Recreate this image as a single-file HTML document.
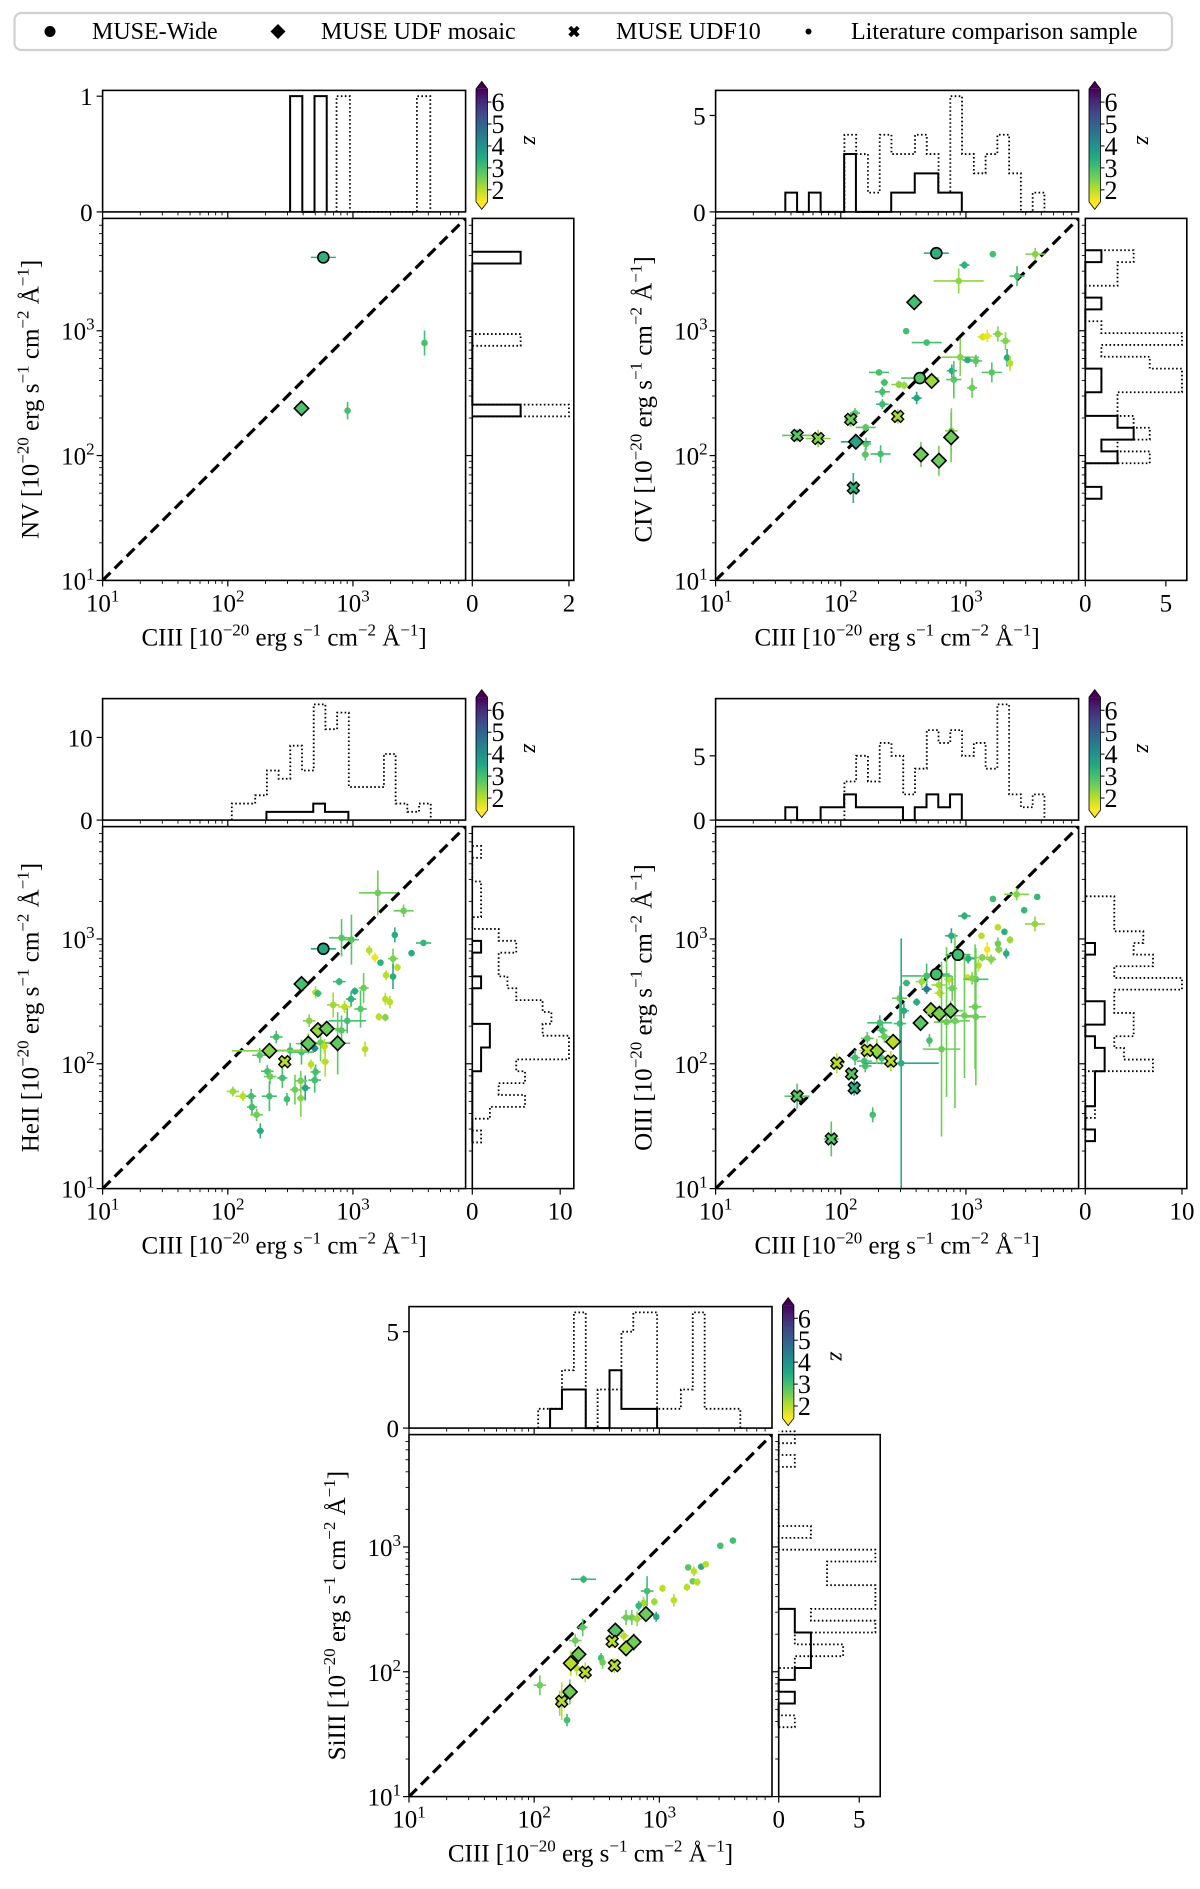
<!DOCTYPE html>
<html><head><meta charset="utf-8">
<style>
html,body{margin:0;padding:0;background:#fff;}
svg{display:block;font-family:"Liberation Serif","DejaVu Serif",serif;}
</style></head>
<body>
<svg id="fig" xmlns="http://www.w3.org/2000/svg" width="1200" height="1889" viewBox="0 0 1200 1889">
<defs>
<linearGradient id="cbgrad" x1="0" y1="0" x2="0" y2="1">
<stop offset="0" stop-color="#440154"/><stop offset="0.1" stop-color="#482475"/><stop offset="0.2" stop-color="#414487"/><stop offset="0.3" stop-color="#355f8d"/><stop offset="0.4" stop-color="#2a788e"/><stop offset="0.5" stop-color="#21918c"/><stop offset="0.6" stop-color="#22a884"/><stop offset="0.7" stop-color="#44bf70"/><stop offset="0.8" stop-color="#7ad151"/><stop offset="0.9" stop-color="#bddf26"/><stop offset="1" stop-color="#fde725"/>
</linearGradient>
</defs>
<g>
<rect x="14.5" y="13" width="1157.5" height="37" rx="7" fill="#fff" stroke="#d0d0d0" stroke-width="2.2"/>
<circle cx="50" cy="31.5" r="5.5" fill="#000"/>
<text x="92" y="39" font-size="24">MUSE-Wide</text>
<polygon points="278,24 285.5,31.5 278,39 270.5,31.5" fill="#000"/>
<text x="321" y="39" font-size="24">MUSE UDF mosaic</text>
<polygon points="-2,-6 2,-6 2,-2 6,-2 6,2 2,2 2,6 -2,6 -2,2 -6,2 -6,-2 -2,-2" transform="translate(574,31.5) rotate(45)" fill="#000"/>
<text x="616" y="39" font-size="24">MUSE UDF10</text>
<circle cx="808.5" cy="31.5" r="3" fill="#000"/>
<text x="851" y="39" font-size="24">Literature comparison sample</text>
</g>
</svg>
<script>
// ---------------- DATA ----------------
// point tuples: [CIII flux, line flux, redshift, xerr(dex), yerr(dex)]
const nvWide = [[580, 3870, 3.3, 0.1, 0.02]];
const nvMosaic = [[388, 239, 2.9, 0.02, 0.06]];
const nvUdf10 = [];
const nvLit = [[906, 229, 3.0, 0.02, 0.07], [3730, 798, 3.0, 0.02, 0.1]];

const civWide = [[580, 4180, 3.3, 0.1, 0.02], [428, 418, 2.8, 0.15, 0.03]];
const civMosaic = [[386, 1690, 3.0, 0.02, 0.03], [532, 396, 2.2, 0.02, 0.03], [132, 129, 3.6, 0.12, 0.05], [437, 102, 2.6, 0.03, 0.1], [608, 91, 2.6, 0.03, 0.12], [761, 140, 2.6, 0.03, 0.2]];
const civUdf10 = [[44.8, 145, 2.8, 0.12, 0.05], [65.9, 137, 2.4, 0.1, 0.07], [120, 195, 2.6, 0.05, 0.06], [285, 206, 2.1, 0.04, 0.06], [126, 55, 3.3, 0.03, 0.12]];
const civLit = [[1640, 4110, 3.0, 0.02, 0.02], [972, 3360, 3.3, 0.04, 0.03], [875, 2505, 2.3, 0.2, 0.1], [3580, 4110, 2.4, 0.08, 0.05], [2560, 2740, 3.0, 0.06, 0.08],
 [333, 993, 3.0, 0.02, 0.02], [486, 804, 3.0, 0.12, 0.02], [1360, 893, 1.8, 0.04, 0.03], [1480, 908, 1.6, 0.04, 0.05], [1800, 942, 2.4, 0.04, 0.06], [2070, 828, 2.4, 0.04, 0.07],
 [2130, 608, 3.4, 0.02, 0.07], [2250, 548, 2.0, 0.02, 0.06], [900, 614, 2.4, 0.15, 0.15], [1030, 583, 3.4, 0.04, 0.02], [1200, 573, 2.8, 0.05, 0.05], [1610, 464, 2.8, 0.08, 0.08],
 [771, 478, 3.4, 0.04, 0.05], [800, 406, 2.8, 0.06, 0.15], [1120, 349, 2.6, 0.04, 0.08], [202, 464, 3.0, 0.08, 0.02], [223, 385, 3.0, 0.03, 0.03], [291, 371, 2.4, 0.06, 0.03],
 [321, 365, 2.2, 0.03, 0.03], [215, 324, 3.0, 0.06, 0.04], [215, 258, 3.1, 0.05, 0.04], [404, 289, 3.6, 0.04, 0.05], [158, 168, 2.8, 0.08, 0.03], [159, 124, 2.8, 0.04, 0.05],
 [157, 102, 2.8, 0.03, 0.05], [208, 103, 3.0, 0.08, 0.07], [130, 219, 2.8, 0.04, 0.04], [765, 158, 2.4, 0.05, 0.18]];

const heiiWide = [[580, 834, 3.5, 0.1, 0.03]];
const heiiMosaic = [[388, 436, 3.0, 0.02, 0.03], [215, 127, 2.4, 0.3, 0.05], [525, 186, 2.2, 0.05, 0.06], [617, 191, 2.6, 0.1, 0.06], [440, 145, 2.7, 0.1, 0.08], [755, 146, 2.7, 0.1, 0.25]];
const heiiUdf10 = [[285, 104, 2.0, 0.04, 0.04]];
const heiiLit = [[1580, 2340, 2.6, 0.15, 0.18], [2540, 1680, 2.6, 0.08, 0.05], [3660, 929, 3.2, 0.06, 0.02], [2940, 769, 3.4, 0.02, 0.02], [2160, 1077, 3.4, 0.02, 0.06],
 [811, 1021, 2.8, 0.1, 0.15], [973, 986, 2.8, 0.06, 0.2], [1350, 810, 2.0, 0.02, 0.04], [1500, 710, 1.6, 0.03, 0.04], [1660, 646, 3.3, 0.02, 0.02], [2090, 695, 2.5, 0.04, 0.08],
 [2270, 592, 2.0, 0.02, 0.03], [1840, 512, 2.0, 0.02, 0.04], [2090, 500, 3.4, 0.02, 0.1], [777, 455, 3.2, 0.05, 0.03], [1035, 382, 3.4, 0.03, 0.03], [1217, 405, 2.6, 0.04, 0.12],
 [966, 330, 3.3, 0.04, 0.06], [1150, 275, 2.8, 0.05, 0.15], [1816, 330, 2.0, 0.02, 0.05], [1973, 312, 2.0, 0.02, 0.05], [1611, 238, 2.0, 0.02, 0.03], [1816, 235, 2.4, 0.02, 0.03],
 [1250, 131, 2.0, 0.02, 0.06], [503, 374, 2.0, 0.03, 0.05], [525, 366, 3.1, 0.03, 0.03], [695, 296, 2.2, 0.05, 0.1], [857, 286, 2.0, 0.05, 0.05], [900, 221, 3.0, 0.15, 0.1],
 [811, 185, 2.8, 0.05, 0.12], [447, 221, 2.4, 0.05, 0.05], [551, 148, 2.6, 0.1, 0.15], [592, 138, 2.0, 0.03, 0.06], [600, 104, 2.0, 0.03, 0.12], [495, 133, 4.2, 0.03, 0.03],
 [315, 128, 3.0, 0.15, 0.06], [388, 124, 3.0, 0.1, 0.1], [462, 99, 2.0, 0.02, 0.04], [244, 164, 3.0, 0.05, 0.05], [180, 117, 2.8, 0.06, 0.06], [207, 87, 3.0, 0.05, 0.05],
 [218, 79, 2.6, 0.05, 0.06], [273, 77, 3.0, 0.04, 0.08], [416, 64, 3.6, 0.04, 0.1], [383, 73, 2.6, 0.05, 0.08], [503, 86, 3.0, 0.04, 0.06], [495, 74, 3.0, 0.05, 0.1],
 [110, 60, 2.2, 0.05, 0.04], [132, 55, 2.0, 0.06, 0.04], [154, 55, 3.0, 0.04, 0.06], [215, 55, 3.0, 0.06, 0.12], [156, 45, 3.0, 0.04, 0.06], [170, 39, 2.6, 0.05, 0.05],
 [182, 29, 3.4, 0.03, 0.06], [297, 52, 3.0, 0.02, 0.05], [344, 62, 2.6, 0.04, 0.12], [383, 53, 2.4, 0.03, 0.15]];

const oiiiWide = [[580, 522, 3.0, 0.1, 0.03], [863, 747, 3.0, 0.1, 0.03]];
const oiiiMosaic = [[525, 269, 2.2, 0.05, 0.04], [612, 252, 2.5, 0.1, 0.06], [755, 266, 2.6, 0.1, 0.08], [434, 212, 2.8, 0.05, 0.05], [262, 150, 2.0, 0.05, 0.05], [194, 126, 2.3, 0.08, 0.1]];
const oiiiUdf10 = [[93, 101, 2.0, 0.05, 0.08], [163, 128, 2.0, 0.06, 0.06], [251, 105, 2.0, 0.04, 0.08], [122, 83, 2.8, 0.04, 0.04], [128, 64, 3.4, 0.04, 0.06], [44.8, 55, 2.8, 0.1, 0.1], [84, 25, 2.8, 0.06, 0.14]];
const oiiiLit = [[1644, 2090, 3.1, 0.02, 0.02], [2540, 2280, 2.4, 0.1, 0.05], [3710, 2170, 3.2, 0.02, 0.02], [2920, 1700, 3.2, 0.02, 0.02], [3560, 1320, 2.3, 0.08, 0.06],
 [973, 1530, 3.3, 0.05, 0.03], [765, 1060, 3.4, 0.05, 0.06], [1330, 1060, 2.0, 0.02, 0.02], [1800, 1240, 2.0, 0.02, 0.02], [2030, 1140, 3.4, 0.02, 0.02], [2250, 985, 2.2, 0.02, 0.03],
 [1800, 917, 2.6, 0.02, 0.05], [1480, 822, 1.6, 0.02, 0.06], [1830, 822, 2.4, 0.03, 0.03], [2100, 764, 3.4, 0.02, 0.04], [1350, 709, 2.4, 0.1, 0.03], [1042, 695, 3.4, 0.05, 0.04],
 [1260, 614, 2.0, 0.02, 0.05], [1590, 685, 2.4, 0.04, 0.04], [1030, 493, 1.8, 0.03, 0.02], [1200, 475, 3.0, 0.1, 0.05], [1120, 483, 2.4, 0.05, 0.05], [735, 475, 2.0, 0.04, 0.05],
 [485, 505, 3.0, 0.2, 0.1], [335, 443, 3.2, 0.03, 0.02], [444, 455, 2.2, 0.05, 0.05], [485, 396, 4.5, 0.04, 0.04], [608, 427, 2.2, 0.06, 0.05], [777, 402, 2.6, 0.04, 0.1],
 [617, 368, 2.0, 0.04, 0.04], [295, 335, 2.6, 0.06, 0.05], [404, 312, 3.4, 0.03, 0.03], [319, 266, 3.4, 0.04, 0.06], [973, 243, 2.6, 0.1, 0.5], [1200, 238, 2.6, 0.08, 0.55],
 [1183, 286, 2.6, 0.05, 0.5], [700, 216, 2.6, 0.1, 0.6], [817, 221, 2.6, 0.12, 0.7], [511, 154, 3.0, 0.02, 0.05], [638, 131, 2.6, 0.15, 0.7], [297, 210, 3.0, 0.05, 0.3],
 [205, 213, 3.0, 0.1, 0.06], [215, 185, 3.0, 0.04, 0.05], [223, 165, 2.6, 0.05, 0.05], [163, 160, 2.8, 0.05, 0.05], [130, 112, 3.0, 0.04, 0.06], [154, 105, 3.0, 0.06, 0.05],
 [157, 96, 3.0, 0.05, 0.05], [212, 111, 3.0, 0.05, 0.05], [304, 101, 3.4, 0.3, 1.0], [180, 39, 3.0, 0.02, 0.06]];

const siiiiWide = [];
const siiiiMosaic = [[782, 290, 2.6, 0.04, 0.04], [445, 214, 2.8, 0.04, 0.06], [624, 173, 2.6, 0.04, 0.07], [542, 154, 2.2, 0.04, 0.06], [226, 138, 2.6, 0.04, 0.07], [196, 117, 2.0, 0.05, 0.1], [193, 69, 2.6, 0.03, 0.1]];
const siiiiUdf10 = [[420, 175, 2.0, 0.03, 0.05], [438, 112, 2.0, 0.03, 0.06], [256, 99, 2.0, 0.03, 0.08], [166, 58, 2.0, 0.05, 0.15]];
const siiiiLit = [[3870, 1125, 3.0, 0.02, 0.02], [3070, 1022, 3.0, 0.02, 0.02], [1700, 685, 2.8, 0.02, 0.02], [2160, 695, 3.4, 0.02, 0.02], [2350, 726, 2.0, 0.02, 0.02],
 [1890, 637, 2.0, 0.02, 0.04], [1850, 531, 2.6, 0.02, 0.02], [2010, 523, 2.0, 0.02, 0.03], [1660, 476, 2.0, 0.02, 0.03], [1060, 466, 2.0, 0.02, 0.03], [798, 443, 3.0, 0.05, 0.12],
 [1306, 374, 2.0, 0.02, 0.05], [912, 364, 2.2, 0.02, 0.03], [748, 356, 2.2, 0.03, 0.05], [684, 338, 3.2, 0.02, 0.04], [944, 276, 3.4, 0.02, 0.04], [542, 272, 2.6, 0.04, 0.06],
 [603, 272, 2.6, 0.04, 0.06], [664, 266, 2.2, 0.04, 0.06], [519, 194, 2.0, 0.04, 0.04], [248, 551, 3.2, 0.1, 0.03], [244, 227, 2.8, 0.04, 0.07], [213, 178, 2.6, 0.05, 0.05],
 [342, 129, 3.0, 0.02, 0.04], [352, 119, 2.6, 0.02, 0.05], [218, 107, 2.0, 0.03, 0.06], [111, 78, 2.6, 0.05, 0.08], [183, 41, 3.0, 0.02, 0.05], [160, 56, 2.2, 0.03, 0.1]];

// histograms: {lo: log10 of first bin edge, w: log10 bin width, n: counts}
const nvTopSolid = {lo: 2.498, w: 0.0975, n: [1, 0, 1]};
const nvTopDotted = {lo: 2.869, w: 0.107, n: [1, 0, 0, 0, 0, 0, 1]};
const nvRightSolid = {lo: 2.314, w: 0.0942, n: [1, 0, 0, 0, 0, 0, 0, 0, 0, 0, 0, 0, 0, 1]};
const nvRightDotted = {lo: 2.314, w: 0.0942, n: [2, 0, 0, 0, 0, 0, 1]};
const civTopSolid = {lo: 1.557, w: 0.094, n: [1, 0, 1, 0, 0, 3, 0, 0, 0, 1, 1, 2, 2, 1, 1]};
const civTopDotted = {lo: 2.029, w: 0.094, n: [4, 3, 1, 4, 3, 3, 4, 3, 1, 6, 3, 2, 3, 4, 2, 0, 1]};
const civRightSolid = {lo: 1.654, w: 0.0948, n: [1, 0, 0, 2, 1, 3, 2, 0, 0, 1, 1, 0, 0, 0, 0, 0, 1, 0, 0, 0, 1]};
const civRightDotted = {lo: 1.654, w: 0.0948, n: [0, 0, 0, 4, 2, 4, 3, 2, 2, 6, 6, 4, 1, 6, 1, 0, 0, 0, 2, 2, 3]};
const heiiTopSolid = {lo: 2.309, w: 0.0935, n: [1, 1, 1, 1, 2, 1, 1]};
const heiiTopDotted = {lo: 2.032, w: 0.0935, n: [2, 2, 3, 6, 5, 9, 6, 14, 11, 13, 4, 4, 4, 8, 2, 1, 2]};
const heiiRightSolid = {lo: 1.370, w: 0.095, n: [0, 0, 0, 0, 0, 0, 1, 1, 2, 2, 0, 0, 0, 1, 0, 0, 1]};
const heiiRightDotted = {lo: 1.370, w: 0.095, n: [1, 0, 2, 6, 3, 6, 5, 11, 11, 8, 9, 8, 5, 4, 3, 3, 5, 3, 0, 1, 1, 1, 0, 0, 1]};
const oiiiTopSolid = {lo: 1.557, w: 0.094, n: [1, 0, 0, 1, 1, 2, 1, 1, 1, 1, 0, 1, 2, 1, 2]};
const oiiiTopDotted = {lo: 2.029, w: 0.094, n: [3, 5, 3, 6, 5, 2, 4, 7, 6, 7, 5, 6, 4, 9, 2, 1, 2]};
const oiiiRightSolid = {lo: 1.380, w: 0.0934, n: [1, 0, 0, 1, 1, 1, 2, 2, 1, 0, 2, 2, 0, 0, 0, 0, 1]};
const oiiiRightDotted = {lo: 1.380, w: 0.0934, n: [0, 0, 1, 0, 0, 0, 7, 4, 3, 5, 5, 3, 3, 10, 3, 7, 5, 6, 3, 3, 3]};
const siiiiTopSolid = {lo: 2.127, w: 0.095, n: [1, 2, 2, 0, 0, 3, 1, 1, 1]};
const siiiiTopDotted = {lo: 2.032, w: 0.095, n: [1, 1, 3, 6, 0, 2, 2, 5, 6, 6, 1, 1, 2, 6, 1, 1, 1]};
const siiiiRightSolid = {lo: 1.556, w: 0.0948, n: [0, 0, 1, 0, 1, 2, 2, 2, 1, 1]};
const siiiiRightDotted = {lo: 1.556, w: 0.0948, n: [1, 0, 0, 0, 0, 1, 4, 1, 6, 2, 6, 6, 3, 3, 6, 0, 2, 0, 0, 0, 0, 0, 1, 0, 1]};

const lineNames = ["NV", "CIV", "HeII", "OIII", "SiIII"];
const topHistTicks = [[0, 1], [0, 5], [0, 10], [0, 5], [0, 5]];
const rightHistTicks = [[0, 2], [0, 5], [0, 10], [0, 10], [0, 5]];
const topHistMax = [1.05, 6.3, 14.7, 9.45, 6.3];
const rightHistMax = [2.1, 6.3, 11.55, 10.5, 6.3];
const colorbarTicks = [2, 3, 4, 5, 6];
const zMin = 1.45, zMax = 6.6;
const logMin = 1, logMax = 3.9;

// ---------------- LAYOUT ----------------
const layout = [
  {mx: 102.6, my: 218.4}, {mx: 715.6, my: 218.4},
  {mx: 102.6, my: 826.6}, {mx: 715.6, my: 826.6},
  {mx: 409, my: 1434.6}
];
const panelData = [
  {key: "nv", wide: nvWide, mosaic: nvMosaic, udf: nvUdf10, lit: nvLit, ts: nvTopSolid, td: nvTopDotted, rs: nvRightSolid, rd: nvRightDotted},
  {key: "civ", wide: civWide, mosaic: civMosaic, udf: civUdf10, lit: civLit, ts: civTopSolid, td: civTopDotted, rs: civRightSolid, rd: civRightDotted},
  {key: "heii", wide: heiiWide, mosaic: heiiMosaic, udf: heiiUdf10, lit: heiiLit, ts: heiiTopSolid, td: heiiTopDotted, rs: heiiRightSolid, rd: heiiRightDotted},
  {key: "oiii", wide: oiiiWide, mosaic: oiiiMosaic, udf: oiiiUdf10, lit: oiiiLit, ts: oiiiTopSolid, td: oiiiTopDotted, rs: oiiiRightSolid, rd: oiiiRightDotted},
  {key: "siiii", wide: siiiiWide, mosaic: siiiiMosaic, udf: siiiiUdf10, lit: siiiiLit, ts: siiiiTopSolid, td: siiiiTopDotted, rs: siiiiRightSolid, rd: siiiiRightDotted}
];
const MW = 363, MH = 362, TH = 121.5, TGAP = 6.5, RGAP = 6.7, RW = 101.5;
const DOT = "1.6,2.4";

const NS = "http://www.w3.org/2000/svg";
const svg = document.getElementById("fig");
function mk(tag, attrs, parent) {
  const e = document.createElementNS(NS, tag);
  for (const k in attrs) e.setAttribute(k, attrs[k]);
  (parent || svg).appendChild(e);
  return e;
}
function tag(el, name) {
  
  
}
const vStops = ["#440154","#482475","#414487","#355f8d","#2a788e","#21918c","#22a884","#44bf70","#7ad151","#bddf26","#fde725"];
function hex2(h){return [parseInt(h.substr(1,2),16),parseInt(h.substr(3,2),16),parseInt(h.substr(5,2),16)];}
function zColor(z) {
  let t = 1 - (z - zMin) / (zMax - zMin);
  t = Math.max(0, Math.min(1, t));
  const f = t * 10, i = Math.min(9, Math.floor(f)), u = f - i;
  const a = hex2(vStops[i]), b = hex2(vStops[i + 1]);
  return "rgb(" + a.map((v, k) => Math.round(v + (b[k] - v) * u)).join(",") + ")";
}
function powText(parent, x, y, exp, anchor, name) {
  const t = mk("text", {x: x, y: y, "font-size": 25, "text-anchor": anchor}, parent);
  tag(t, name);
  t.appendChild(document.createTextNode("10"));
  const s = mk("tspan", {dy: -10, "font-size": 17}, t);
  s.textContent = exp;
  return t;
}
function unitLabel(parent, prefix, x, y, rot, name) {
  const t = mk("text", {x: x, y: y, "font-size": 25, "text-anchor": "middle", transform: rot ? "rotate(-90 " + x + " " + y + ")" : ""}, parent);
  tag(t, name);
  const parts = [[prefix + " [10", 0], ["\u221220", 1], [" erg s", 0], ["\u22121", 1], [" cm", 0], ["\u22122", 1], [" \u00c5", 0], ["\u22121", 1], ["]", 0]];
  let up = false;
  parts.forEach(p => {
    const sp = mk("tspan", {}, t);
    if (p[1] && !up) { sp.setAttribute("dy", -10); sp.setAttribute("font-size", 17); up = true; }
    else if (!p[1] && up) { sp.setAttribute("dy", 10); up = false; }
    else if (p[1]) sp.setAttribute("font-size", 17);
    sp.textContent = p[0];
  });
}

panelData.forEach((pd, pi) => {
  const L = layout[pi];
  const mx = L.mx, my = L.my;
  const xs = v => mx + (Math.log10(v) - logMin) / (logMax - logMin) * MW;
  const ys = v => my + MH - (Math.log10(v) - logMin) / (logMax - logMin) * MH;
  const xl = l => mx + (l - logMin) / (logMax - logMin) * MW;
  const yl = l => my + MH - (l - logMin) / (logMax - logMin) * MH;
  const g = mk("g", {});
  tag(g, pd.key + "-panel");

  // ----- top histogram -----
  const th = {x: mx, y: my - TGAP - TH, w: MW, h: TH};
  const tg = mk("g", {}, g);
  tag(tg, pd.key + "-top-histogram");
  const thY = c => th.y + th.h - c / topHistMax[pi] * th.h;
  [[pd.td, DOT, "dotted"], [pd.ts, "", "solid"]].forEach(([hd, dash, nm]) => {
    let d = "M" + xl(hd.lo) + "," + thY(0);
    hd.n.forEach((c, i) => { d += " L" + xl(hd.lo + i * hd.w) + "," + thY(c) + " L" + xl(hd.lo + (i + 1) * hd.w) + "," + thY(c); });
    d += " L" + xl(hd.lo + hd.n.length * hd.w) + "," + thY(0);
    const p = mk("path", {d: d, fill: "none", stroke: "#000", "stroke-width": nm === "solid" ? 2 : 1.8, "stroke-dasharray": dash}, tg);
    tag(p, pd.key + "-top-hist-" + (nm === "solid" ? "muse" : "literature"));
  });
  const tf = mk("rect", {x: th.x, y: th.y, width: th.w, height: th.h, fill: "none", stroke: "#000", "stroke-width": 1.6}, tg);
  tag(tf, pd.key + "-top-hist-frame");
  topHistTicks[pi].forEach(v => {
    const y = thY(v);
    const tk = mk("line", {x1: mx - 6, x2: mx, y1: y, y2: y, stroke: "#000", "stroke-width": 1.2}, tg);
    tag(tk, pd.key + "-top-hist-ytick");
    const tl = mk("text", {x: mx - 10, y: y + 9, "font-size": 25, "text-anchor": "end"}, tg);
    tag(tl, pd.key + "-top-hist-ytick-label");
    tl.textContent = v;
  });
  [th.y + th.h, my + MH].forEach((by, k) => {
    for (let dec = 1; dec <= 3; dec++) {
      for (let m = 1; m <= 9; m++) {
        const l = dec + Math.log10(m);
        if (l > logMax) continue;
        const x = xl(l);
        const tk = mk("line", {x1: x, x2: x, y1: by, y2: by + (m === 1 ? 6 : 3.5), stroke: "#000", "stroke-width": m === 1 ? 1.2 : 0.9}, g);
        tag(tk, pd.key + (k ? "-x-tick" : "-top-hist-x-tick"));
      }
    }
  });

  // ----- right histogram -----
  const rh = {x: mx + MW + RGAP, y: my, w: RW, h: MH};
  const rg = mk("g", {}, g);
  tag(rg, pd.key + "-right-histogram");
  const rhX = c => rh.x + c / rightHistMax[pi] * rh.w;
  [[pd.rd, DOT, "dotted"], [pd.rs, "", "solid"]].forEach(([hd, dash, nm]) => {
    let d = "M" + rhX(0) + "," + yl(hd.lo);
    hd.n.forEach((c, i) => { d += " L" + rhX(c) + "," + yl(hd.lo + i * hd.w) + " L" + rhX(c) + "," + yl(hd.lo + (i + 1) * hd.w); });
    d += " L" + rhX(0) + "," + yl(hd.lo + hd.n.length * hd.w);
    const p = mk("path", {d: d, fill: "none", stroke: "#000", "stroke-width": nm === "solid" ? 2 : 1.8, "stroke-dasharray": dash}, rg);
    tag(p, pd.key + "-right-hist-" + (nm === "solid" ? "muse" : "literature"));
  });
  const rf = mk("rect", {x: rh.x, y: rh.y, width: rh.w, height: rh.h, fill: "none", stroke: "#000", "stroke-width": 1.6}, rg);
  tag(rf, pd.key + "-right-hist-frame");
  rightHistTicks[pi].forEach(v => {
    const x = rhX(v);
    const tk = mk("line", {x1: x, x2: x, y1: my + MH, y2: my + MH + 6, stroke: "#000", "stroke-width": 1.2}, rg);
    tag(tk, pd.key + "-right-hist-xtick");
    const tl = mk("text", {x: x, y: my + MH + 31, "font-size": 25, "text-anchor": "middle"}, rg);
    tag(tl, pd.key + "-right-hist-xtick-label");
    tl.textContent = v;
  });
  [mx, rh.x].forEach((lx, k) => {
    for (let dec = 1; dec <= 3; dec++) {
      for (let m = 1; m <= 9; m++) {
        const l = dec + Math.log10(m);
        if (l > logMax) continue;
        const y = yl(l);
        const tk = mk("line", {x1: lx - (m === 1 ? 6 : 3.5), x2: lx, y1: y, y2: y, stroke: "#000", "stroke-width": m === 1 ? 1.2 : 0.9}, g);
        tag(tk, pd.key + (k ? "-right-hist-y-tick" : "-y-tick"));
      }
    }
  });

  // ----- colorbar -----
  const cbx = mx + 373.4, cbw = 11.5;
  const cbTop = th.y - 1.5, cbBot = th.y + th.h - 10;
  const cg = mk("g", {}, g);
  tag(cg, pd.key + "-colorbar");
  const cbBody = mk("rect", {x: cbx, y: cbTop, width: cbw, height: cbBot - cbTop, fill: "url(#cbgrad)"}, cg);
  tag(cbBody, pd.key + "-colorbar-gradient");
  const triT = mk("polygon", {points: cbx + "," + cbTop + " " + (cbx + cbw) + "," + cbTop + " " + (cbx + cbw / 2) + "," + (cbTop - 7.5), fill: "#440154"}, cg);
  tag(triT, pd.key + "-colorbar-extend-high");
  const triB = mk("polygon", {points: cbx + "," + cbBot + " " + (cbx + cbw) + "," + cbBot + " " + (cbx + cbw / 2) + "," + (cbBot + 7.5), fill: "#fde725"}, cg);
  tag(triB, pd.key + "-colorbar-extend-low");
  const cbo = mk("path", {d: "M" + cbx + "," + cbTop + " L" + (cbx + cbw / 2) + "," + (cbTop - 7.5) + " L" + (cbx + cbw) + "," + cbTop + " L" + (cbx + cbw) + "," + cbBot + " L" + (cbx + cbw / 2) + "," + (cbBot + 7.5) + " L" + cbx + "," + cbBot + " Z", fill: "none", stroke: "#000", "stroke-width": 0.8}, cg);
  tag(cbo, pd.key + "-colorbar-outline");
  colorbarTicks.forEach(z => {
    const y = cbBot - (z - zMin) / (zMax - zMin) * (cbBot - cbTop);
    const tk = mk("line", {x1: cbx + cbw, x2: cbx + cbw + 4, y1: y, y2: y, stroke: "#000", "stroke-width": 1}, cg);
    tag(tk, pd.key + "-colorbar-tick");
    const tl = mk("text", {x: cbx + cbw + 4, y: y + 9, "font-size": 26}, cg);
    tag(tl, pd.key + "-colorbar-tick-label");
    tl.textContent = z;
  });
  const zx = cbx + 48, zy = (cbTop + cbBot) / 2 - 5;
  const zl = mk("text", {x: zx, y: zy, "font-size": 24, "font-style": "italic", "text-anchor": "middle", transform: "rotate(90 " + zx + " " + zy + ")"}, cg);
  tag(zl, pd.key + "-colorbar-label");
  zl.textContent = "z";

  // ----- main axes -----
  const ag = mk("g", {}, g);
  tag(ag, pd.key + "-scatter-axes");
  const clipId = "clip" + pi;
  const cp = mk("clipPath", {id: clipId}, ag);
  mk("rect", {x: mx, y: my, width: MW, height: MH}, cp);
  const pg = mk("g", {"clip-path": "url(#" + clipId + ")"}, ag);
  tag(pg, pd.key + "-plot-area");

  const oneToOne = mk("line", {x1: xl(logMin), y1: yl(logMin), x2: xl(logMax), y2: yl(logMax), stroke: "#000", "stroke-width": 3.2, "stroke-dasharray": "11,6"}, pg);
  tag(oneToOne, pd.key + "-one-to-one-line");

  function errbars(p, col, name) {
    const x = xs(p[0]), y = ys(p[1]);
    const ex = p[3] || 0.03, ey = p[4] || 0.04;
    const eb = mk("path", {d: "M" + xs(p[0] / Math.pow(10, ex)) + "," + y + " L" + xs(p[0] * Math.pow(10, ex)) + "," + y +
      " M" + x + "," + ys(p[1] / Math.pow(10, ey)) + " L" + x + "," + ys(p[1] * Math.pow(10, ey)), stroke: col, "stroke-width": 1.6, fill: "none"}, pg);
    tag(eb, name);
  }
  pd.lit.forEach(p => {
    const col = zColor(p[2]);
    errbars(p, col, pd.key + "-literature-errorbar");
    const c = mk("circle", {cx: xs(p[0]), cy: ys(p[1]), r: 3.3, fill: col}, pg);
    tag(c, pd.key + "-literature-point");
  });
  pd.wide.forEach(p => {
    const col = zColor(p[2]);
    errbars(p, col, pd.key + "-muse-wide-errorbar");
    const c = mk("circle", {cx: xs(p[0]), cy: ys(p[1]), r: 5.5, fill: col, stroke: "#000", "stroke-width": 1.6}, pg);
    tag(c, pd.key + "-muse-wide-point");
  });
  pd.mosaic.forEach(p => {
    const col = zColor(p[2]);
    errbars(p, col, pd.key + "-muse-mosaic-errorbar");
    const x = xs(p[0]), y = ys(p[1]), s = 7.2;
    const c = mk("polygon", {points: x + "," + (y - s) + " " + (x + s) + "," + y + " " + x + "," + (y + s) + " " + (x - s) + "," + y, fill: col, stroke: "#000", "stroke-width": 1.6}, pg);
    tag(c, pd.key + "-muse-mosaic-point");
  });
  pd.udf.forEach(p => {
    const col = zColor(p[2]);
    errbars(p, col, pd.key + "-muse-udf10-errorbar");
    const c = mk("polygon", {points: "-2.2,-6.2 2.2,-6.2 2.2,-2.2 6.2,-2.2 6.2,2.2 2.2,2.2 2.2,6.2 -2.2,6.2 -2.2,2.2 -6.2,2.2 -6.2,-2.2 -2.2,-2.2",
      transform: "translate(" + xs(p[0]) + "," + ys(p[1]) + ") rotate(45)", fill: col, stroke: "#000", "stroke-width": 1.4}, pg);
    tag(c, pd.key + "-muse-udf10-point");
  });
  const mf = mk("rect", {x: mx, y: my, width: MW, height: MH, fill: "none", stroke: "#000", "stroke-width": 1.6}, ag);
  tag(mf, pd.key + "-axes-frame");

  [1, 2, 3].forEach(dec => {
    powText(ag, xl(dec), my + MH + 31, String(dec), "middle", pd.key + "-x-tick-label");
    powText(ag, mx - 8, yl(dec) + 9, String(dec), "end", pd.key + "-y-tick-label");
  });
  unitLabel(ag, "CIII", mx + MW / 2, my + MH + 65, false, pd.key + "-x-axis-title");
  unitLabel(ag, lineNames[pi], mx - 64, my + MH / 2, true, pd.key + "-y-axis-title");
});
</script>
</body></html>
